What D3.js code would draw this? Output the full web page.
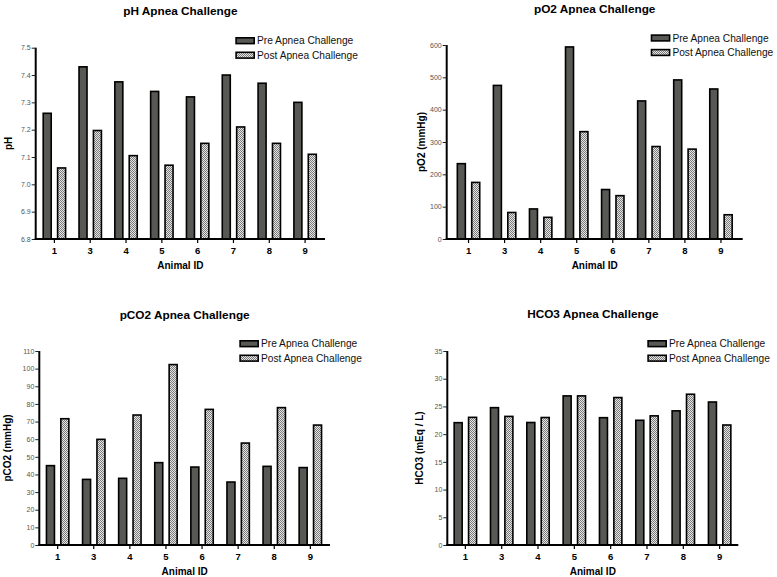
<!DOCTYPE html>
<html>
<head>
<meta charset="utf-8">
<script src="https://cdn.jsdelivr.net/npm/d3@7"></script>
<style>
  html, body { margin: 0; padding: 0; background: #fff; }
  svg { display: block; font-family: "Liberation Sans", Arial, sans-serif; }
</style>
</head>
<body>
<svg id="chart" width="777" height="577"></svg>
<script>
// ---- Data ----
const animalIds = ["1", "3", "4", "5", "6", "7", "8", "9"];
const seriesNames = ["Pre Apnea Challenge", "Post Apnea Challenge"];

const phPre  = [7.26, 7.43, 7.375, 7.34, 7.32, 7.40, 7.37, 7.30];
const phPost = [7.06, 7.197, 7.105, 7.07, 7.15, 7.21, 7.15, 7.11];
const phTicks = [6.8, 6.9, 7.0, 7.1, 7.2, 7.3, 7.4, 7.5];

const po2Pre  = [233, 475, 93, 594, 153, 427, 492, 464];
const po2Post = [175, 82, 67, 332, 134, 286, 278, 75];
const po2Ticks = [0, 100, 200, 300, 400, 500, 600];

const pco2Pre  = [45.0, 37.2, 37.8, 46.7, 44.2, 35.7, 44.6, 43.9];
const pco2Post = [71.6, 59.9, 73.7, 102.3, 76.9, 57.8, 77.9, 68.0];
const pco2Ticks = [0, 10, 20, 30, 40, 50, 60, 70, 80, 90, 100, 110];

const hco3Pre  = [22.07, 24.78, 22.1, 26.9, 22.97, 22.5, 24.2, 25.8];
const hco3Post = [23.03, 23.2, 23.0, 26.9, 26.6, 23.3, 27.2, 21.65];
const hco3Ticks = [0, 5, 10, 15, 20, 25, 30, 35];

const titles = ["pH Apnea Challenge", "pO2 Apnea Challenge", "pCO2 Apnea Challenge", "HCO3 Apnea Challenge"];
const yLabels = ["pH", "pO2 (mmHg)", "pCO2 (mmHg)", "HCO3 (mEq / L)"];
const xLabel = "Animal ID";

// ---- Layout ----
const panels = [
  { pre: phPre, post: phPost, ticks: phTicks, domain: [6.8, 7.5], fmt: d3.format(".1f"),
    axisX: 35.7, axisEnd: 325, band: [36.5, 323], yRange: [239, 47.7],
    ylabX: 8.3, legX: 235.3, legY: 37, tickLabY: 253.5, xlabY: 269, titleY: 15 },
  { pre: po2Pre, post: po2Post, ticks: po2Ticks, domain: [0, 600], fmt: d3.format("d"),
    axisX: 446.7, axisEnd: 742.7, band: [450.5, 739], yRange: [239, 45],
    ylabX: 421.7, legX: 650.7, legY: 34.3, tickLabY: 253.5, xlabY: 269, titleY: 13 },
  { pre: pco2Pre, post: pco2Post, ticks: pco2Ticks, domain: [0, 110], fmt: d3.format("d"),
    axisX: 39.3, axisEnd: 330, band: [39.6, 328.4], yRange: [545, 351],
    ylabX: 7.8, legX: 239.3, legY: 340, tickLabY: 559.5, xlabY: 574.5, titleY: 319 },
  { pre: hco3Pre, post: hco3Post, ticks: hco3Ticks, domain: [0, 35], fmt: d3.format("d"),
    axisX: 447.3, axisEnd: 738.3, band: [447.2, 737.8], yRange: [545, 351],
    ylabX: 419.3, legX: 647.3, legY: 340, tickLabY: 559.5, xlabY: 574.5, titleY: 318 }
];

const svg = d3.select("#chart");
const defs = svg.append("defs");
const pat = defs.append("pattern").attr("id", "checks")
  .attr("width", 2).attr("height", 2).attr("patternUnits", "userSpaceOnUse");
pat.append("rect").attr("width", 2).attr("height", 2).attr("fill", "#e6e6e6");
pat.append("rect").attr("x", 0).attr("y", 0).attr("width", 1).attr("height", 1).attr("fill", "#7a7a7a");
pat.append("rect").attr("x", 1).attr("y", 1).attr("width", 1).attr("height", 1).attr("fill", "#7a7a7a");

const fills = ["#585854", "url(#checks)"];

panels.forEach((p, i) => {
  const g = svg.append("g");
  const x = d3.scaleBand().domain(animalIds).range(p.band).padding(0);
  const y = d3.scaleLinear().domain(p.domain).range(p.yRange);
  const sub = d3.scaleBand().domain(["pre", "post"]).range([-12, 12]).paddingInner(0.333).paddingOuter(0);

  const rows = animalIds.map((id, k) => ({ id, pre: p.pre[k], post: p.post[k] }));

  // bars
  ["pre", "post"].forEach((s, si) => {
    g.selectAll(null).data(rows).enter().append("rect")
      .attr("x", d => x(d.id) + x.bandwidth() / 2 + sub(s) + 0.8)
      .attr("width", sub.bandwidth() - 1.6)
      .attr("y", d => y(d[s]))
      .attr("height", d => p.yRange[0] - y(d[s]))
      .attr("fill", fills[si])
      .attr("stroke", "#000")
      .attr("stroke-width", 1.6);
  });

  // y axis
  const yAxis = g.append("g").attr("transform", `translate(${p.axisX},0)`)
    .call(d3.axisLeft(y).tickValues(p.ticks).tickFormat(p.fmt).tickSize(4).tickPadding(1));
  yAxis.select(".domain").attr("stroke", "#000").attr("stroke-width", 2)
    .attr("d", `M0,${p.yRange[0]}V${p.yRange[1]}`);
  yAxis.selectAll(".tick line").attr("stroke", "#222").attr("stroke-width", 1);
  yAxis.selectAll(".tick text").attr("font-size", 7).attr("fill", "#555")
    .attr("font-family", "Liberation Sans, Arial, sans-serif");

  // x axis
  const xAxis = g.append("g").attr("transform", `translate(0,${p.yRange[0]})`)
    .call(d3.axisBottom(x).tickSize(4).tickSizeOuter(0));
  xAxis.select(".domain").attr("stroke", "#000").attr("stroke-width", 2)
    .attr("d", `M${p.axisX - 1},0H${p.axisEnd}`);
  xAxis.selectAll(".tick line").attr("stroke", "#000").attr("stroke-width", 1.2);
  xAxis.selectAll(".tick text").remove();
  xAxis.selectAll(".tick").append("text")
    .attr("y", p.tickLabY - p.yRange[0])
    .attr("text-anchor", "middle")
    .attr("font-size", 9.5).attr("font-weight", "bold").attr("fill", "#000")
    .attr("font-family", "Liberation Sans, Arial, sans-serif")
    .text(d => d);

  const midX = (p.axisX + p.axisEnd) / 2;
  // title
  g.append("text").attr("x", midX).attr("y", p.titleY)
    .attr("text-anchor", "middle").attr("font-size", 11.8).attr("font-weight", "bold")
    .text(titles[i]);
  // x label
  g.append("text").attr("x", midX).attr("y", p.xlabY)
    .attr("text-anchor", "middle").attr("font-size", 10).attr("font-weight", "bold")
    .text(xLabel);
  // y label
  const midY = (p.yRange[0] + p.yRange[1]) / 2;
  g.append("text")
    .attr("transform", `translate(${p.ylabX},${midY}) rotate(-90)`)
    .attr("dy", "0.35em")
    .attr("text-anchor", "middle").attr("font-size", 10).attr("font-weight", "bold")
    .text(yLabels[i]);

  // legend
  const leg = g.append("g");
  seriesNames.forEach((name, si) => {
    const ly = p.legY + si * 14.5;
    leg.append("rect").attr("x", p.legX + 0.8).attr("y", ly + 0.8)
      .attr("width", 18.1).attr("height", 5.8)
      .attr("fill", fills[si]).attr("stroke", "#000").attr("stroke-width", 1.6);
    leg.append("text").attr("x", p.legX + 21.7).attr("y", ly + 7.4)
      .attr("font-size", 10.2).attr("fill", "#111")
      .text(name);
  });
});
</script>
</body>
</html>
